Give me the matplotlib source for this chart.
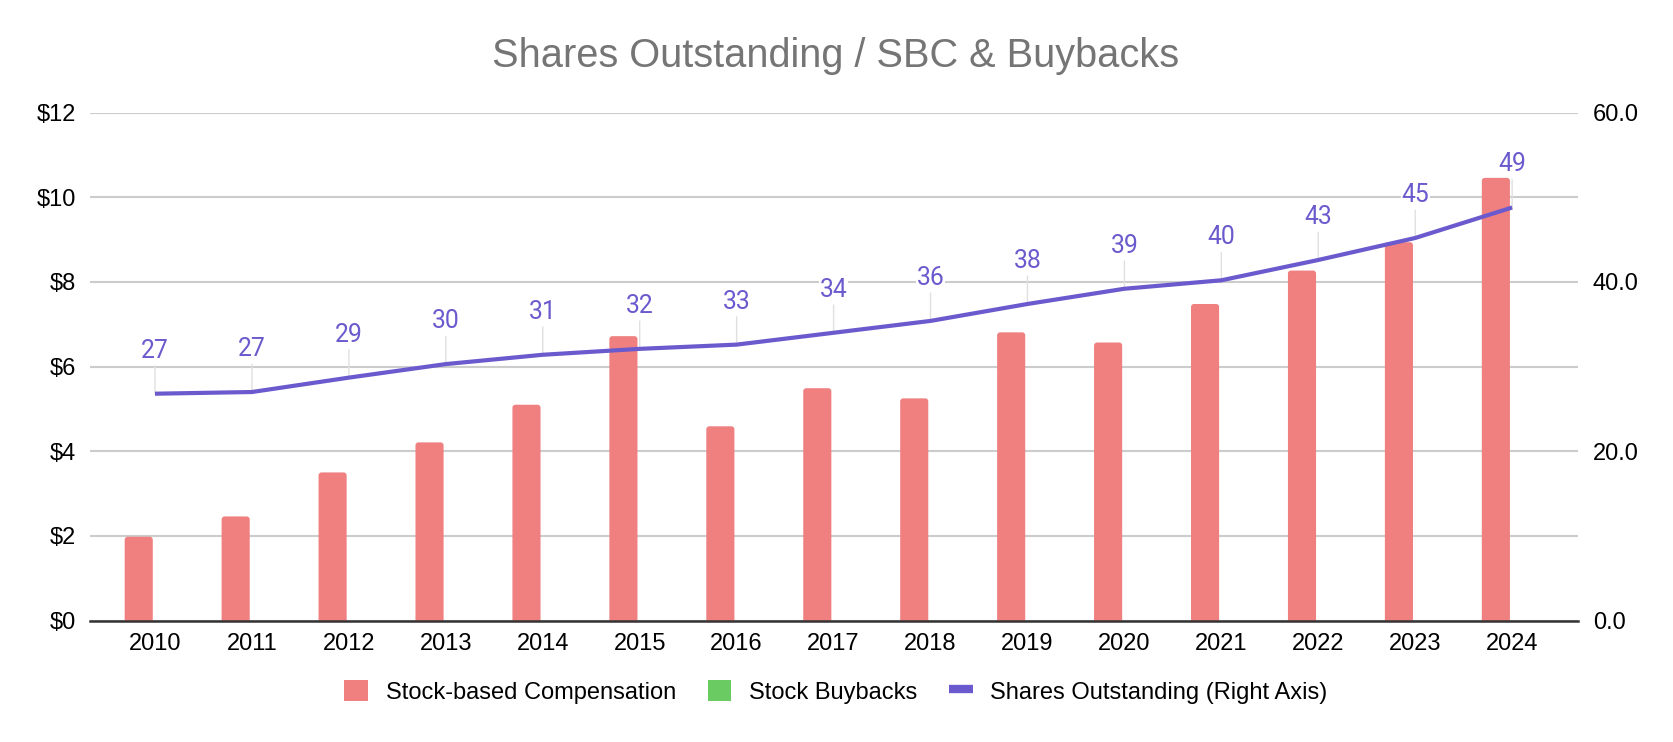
import matplotlib
matplotlib.use("Agg")
import matplotlib.pyplot as plt
from matplotlib.patches import Patch, FancyBboxPatch
from matplotlib.lines import Line2D
import numpy as np

years = ["2010", "2011", "2012", "2013", "2014", "2015", "2016", "2017",
         "2018", "2019", "2020", "2021", "2022", "2023", "2024"]
sbc = [1.98, 2.46, 3.50, 4.21, 5.10, 6.72, 4.59, 5.49, 5.25, 6.81, 6.57, 7.48, 8.27, 8.94, 10.46]
buybacks = [0] * 15
shares = [26.8, 27.0, 28.7, 30.3, 31.4, 32.1, 32.6, 34.0, 35.4, 37.4, 39.2, 40.2, 42.6, 45.2, 48.8]
share_labels = ["27", "27", "29", "30", "31", "32", "33", "34", "36", "38", "39", "40", "43", "45", "49"]
left_ticks = [0, 2, 4, 6, 8, 10, 12]
left_tick_labels = ["$0", "$2", "$4", "$6", "$8", "$10", "$12"]
right_ticks = [0, 20, 40, 60]
right_tick_labels = ["0.0", "20.0", "40.0", "60.0"]

C_SBC = "#f08080"
C_BUY = "#6bcb63"
C_LINE = "#6a5acd"
TICK_FONT = "Liberation Sans"

fig = plt.figure(figsize=(16.74, 7.42), dpi=100)
ax_rect = [0.0538, 0.1637, 0.8889, 0.6844]
ax = fig.add_axes(ax_rect)
ax2 = ax.twinx()

x = np.arange(len(years))
bw = 0.29
xlim = (-0.67, 14.68)
ylim = (0, 12)
ax.set_ylim(*ylim)
ax.set_xlim(*xlim)

# px per data unit, to make rounded corners round on screen
W_px = ax_rect[2] * 1674
H_px = ax_rect[3] * 742
px_x = W_px / (xlim[1] - xlim[0])
px_y = H_px / (ylim[1] - ylim[0])
r_px = 3.0

def rounded_bars(container, color):
    for rect in container:
        h = rect.get_height()
        rect.set_visible(False)
        if h <= 0:
            continue
        rx = r_px / px_x
        ry = r_px / px_y
        p = FancyBboxPatch((rect.get_x(), -ry), rect.get_width(), h + ry,
                           boxstyle=f"round,pad=0,rounding_size={rx}",
                           mutation_aspect=ry / rx,
                           facecolor=color, edgecolor="none", zorder=2)
        ax.add_patch(p)

b1 = ax.bar(x - 0.168, sbc, width=bw, color=C_SBC, zorder=2)
b2 = ax.bar(x + 0.168, buybacks, width=bw, color=C_BUY, zorder=2)
rounded_bars(b1, C_SBC)
rounded_bars(b2, C_BUY)

ax.set_yticks(left_ticks)
ax.set_yticklabels(left_tick_labels)
ax.set_xticks(x)
ax.set_xticklabels(years)
ax.grid(axis="y", color="#cccccc", lw=1.5, zorder=0)
ax.set_axisbelow(True)
for s in ["top", "left", "right"]:
    ax.spines[s].set_visible(False)
ax.spines["bottom"].set_color("#333333")
ax.spines["bottom"].set_linewidth(1.8)
ax.spines["bottom"].set_zorder(3)
ax.tick_params(axis="both", length=0, labelsize=17, labelcolor="#000000")
ax.tick_params(axis="y", pad=10)
ax.tick_params(axis="x", pad=9)
for t in ax.get_xticklabels() + ax.get_yticklabels():
    t.set_fontfamily(TICK_FONT)

ax2.plot(x, shares, color=C_LINE, lw=3.0, zorder=4, solid_capstyle="butt")
ax2.set_ylim(0, 60)
ax2.set_yticks(right_ticks)
ax2.set_yticklabels(right_tick_labels)
ax2.tick_params(axis="y", length=0, labelsize=17, pad=10.5)
for t in ax2.get_yticklabels():
    t.set_fontfamily(TICK_FONT)
for s in ["top", "left", "right", "bottom"]:
    ax2.spines[s].set_visible(False)

for xi, yi, lab in zip(x, shares, share_labels):
    ax2.annotate(lab, xy=(xi, yi), xytext=(0, 26), textcoords="offset points",
                 ha="center", va="baseline", fontsize=17.8, family="Roboto",
                 color=C_LINE, zorder=3,
                 bbox=dict(facecolor="white", edgecolor="none", pad=0.3),
                 arrowprops=dict(arrowstyle="-", color="#e0e0e0", lw=1.0,
                                 shrinkA=2, shrinkB=0))

fig.text(0.4994, 0.9101, "Shares Outstanding / SBC & Buybacks", ha="center", va="baseline",
         fontsize=28.6, family="Liberation Sans", color="#757575")

handles = [Patch(facecolor=C_SBC, edgecolor="none"),
           Patch(facecolor=C_BUY, edgecolor="none"),
           Line2D([0], [0], color=C_LINE, lw=6, solid_capstyle="butt")]
labels = ["Stock-based Compensation", "Stock Buybacks", "Shares Outstanding (Right Axis)"]
leg = fig.legend(handles, labels, loc="center", bbox_to_anchor=(0.4994, 0.0674), ncol=3,
                 frameon=False, prop={"family": TICK_FONT, "size": 17},
                 handlelength=1.0, handleheight=1.0, handletextpad=0.75,
                 columnspacing=1.35)

fig.savefig("out.png", dpi=100)
